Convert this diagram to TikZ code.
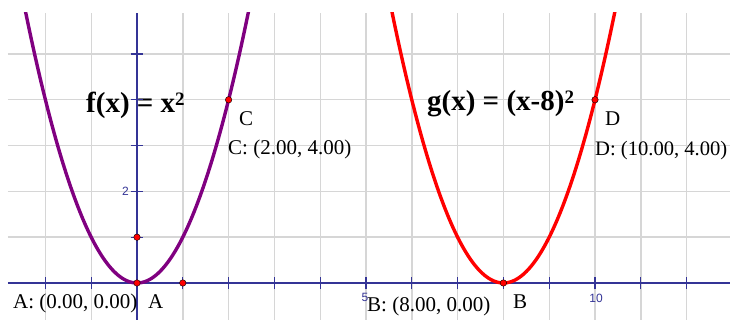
\documentclass[tikz,border=0pt]{standalone}
\usepackage{fontspec}
\setmainfont{Liberation Serif}
\setsansfont{Liberation Sans}
\definecolor{axisblue}{RGB}{52,52,150}
\definecolor{gridgray}{RGB}{214,214,214}
\definecolor{fpurple}{RGB}{128,0,128}
\definecolor{gred}{RGB}{255,0,0}
\begin{document}
\begin{tikzpicture}[x=45.8pt,y=45.8pt,
  gridline/.style={draw=gridgray,line width=1.4pt},
  axisline/.style={draw=axisblue,line width=1.6pt},
  tickline/.style={draw=axisblue,line width=1.3pt},
  curve/.style={line width=3.4pt,line join=round},
  dot/.style={circle,fill=gred,draw=black,line width=0.4pt,inner sep=0pt,minimum size=6.5pt},
  lbl/.style={font=\fontsize{21}{23}\selectfont,inner sep=0pt,anchor=base west},
  eqlbl/.style={font=\bfseries\fontsize{29}{31}\selectfont,inner sep=0pt,anchor=base west},
  ticklbl/.style={font=\sffamily\fontsize{12}{13}\selectfont,text=axisblue,inner sep=0pt}
]
\useasboundingbox[fill=white] (-2.9913,-0.8079) rectangle (12.9476,6.179);
% grid
\foreach \i in {-2,-1,1,2,3,4,5,6,7,8,9,10,11,12}
  \draw[gridline] (\i,-0.8079) -- (\i,5.895);
\foreach \j in {1,...,5}
  \draw[gridline] (-2.817,\j) -- (12.9476,\j);
% equation labels (under the axes)
\node[eqlbl] (flbl) at (-1.1135,3.712) {f(x) = x\raisebox{7pt}{\fontsize{19}{19}\selectfont 2}};
\node[eqlbl] (glbl) at (6.332,3.777) {g(x) = (x-8)\raisebox{7pt}{\fontsize{19}{19}\selectfont 2}};
% axes
\draw[axisline] (-2.817,0) -- (12.9476,0);
\draw[axisline] (0,-0.8079) -- (0,5.895);
\foreach \i in {-2,-1,1,2,3,4,5,6,7,8,9,10,11,12}
  \draw[tickline] (\i,-0.14) -- (\i,0.14);
\foreach \j in {1,...,5}
  \draw[tickline] (-0.14,\j) -- (0.14,\j);
\node[ticklbl] (t2) at (-0.25,2.009) {2};
\node[ticklbl] (t5) at (4.978,-0.306) {5};
\node[ticklbl] (t10) at (10.022,-0.328) {10};
% curves
\begin{scope}
  \clip (-2.817,-0.8079) rectangle (12.9476,5.895);
  \draw[curve,fpurple] plot[domain=-2.6:2.6,samples=120,smooth] (\x,{\x*\x});
  \draw[curve,gred] plot[domain=5.4:10.6,samples=120,smooth] (\x,{(\x-8)*(\x-8)});
\end{scope}
% points
\node[dot] (A) at (0,0) {};
\node[dot] (B) at (8,0) {};
\node[dot] (C) at (2,4) {};
\node[dot] (D) at (10,4) {};
\node[dot] (P1) at (0,1) {};
\node[dot] (P2) at (1,0) {};
% labels
\node[lbl] (Cn) at (2.227,3.428) {C};
\node[lbl] (Cc) at (1.987,2.795) {C: (2.00, 4.00)};
\node[lbl] (Dn) at (10.218,3.428) {D};
\node[lbl,font=\fontsize{20.6}{23}\selectfont] (Dc) at (10.0,2.773) {D: (10.00, 4.00)};
\node[lbl] (Ac) at (-2.707,-0.546) {A: (0.00, 0.00)};
\node[lbl] (An) at (0.240,-0.546) {A};
\node[lbl] (Bc) at (5.022,-0.633) {B: (8.00, 0.00)};
\node[lbl] (Bn) at (8.21,-0.546) {B};
\end{tikzpicture}
\end{document}
